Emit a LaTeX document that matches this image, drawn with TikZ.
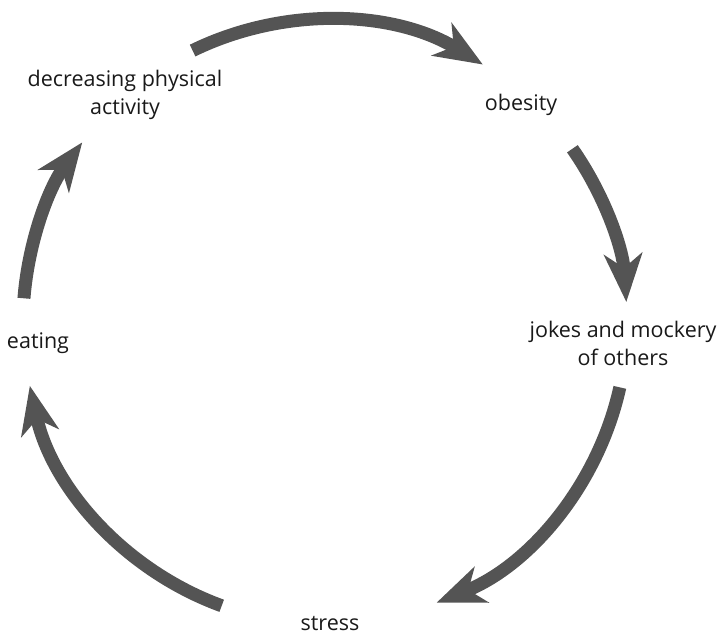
\documentclass[tikz,border=0pt]{standalone}
\usepackage{fontspec}
\setmainfont{Open Sans}
\usetikzlibrary{arrows.meta,calc,positioning}

\begin{document}
\begin{tikzpicture}
          [x=1pt, y=1pt,
           label/.style={align=center, font=\fontsize{21.5}{28}\selectfont, text=black!90},
           cycle/.style={line width=13pt, draw=black!67,
             -{Stealth[length=48pt, width=38pt, inset=14pt]}}
          ]
          \useasboundingbox (0,0) rectangle (720,638);
          \coordinate (c) at (325,316);
          % labels
          \node[label] (activity) at (125,543) {decreasing physical\\activity};
          \node[label] (obesity) at (521,533) {obesity};
          \node[label] (jokes) at (623,295) {jokes and mockery\\of others};
          \node[label] (stress) at (330,14) {stress};
          \node[label] (eating) at (38,295) {eating};
          % arrow ends on the circle
          \coordinate (a1) at ($(c)+(116:302)$);
          \coordinate (a2) at ($(c)+(35:302)$);
          \coordinate (a3) at ($(c)+(-12.5:302)$);
          \coordinate (a4) at ($(c)+(-110:302)$);
          \coordinate (a5) at ($(c)+(175.5:302)$);
          \draw[cycle] (a1) arc[start angle=116, end angle=58.5, radius=302];
          \draw[cycle] (a2) arc[start angle=35, end angle=3.8, radius=302];
          \draw[cycle] (a3) arc[start angle=-12.5, end angle=-68.3, radius=302];
          \draw[cycle] (a4) arc[start angle=-110, end angle=-167.8, radius=302];
          \draw[cycle] (a5) arc[start angle=175.5, end angle=143.5, radius=302];
        \end{tikzpicture}
\end{document}
